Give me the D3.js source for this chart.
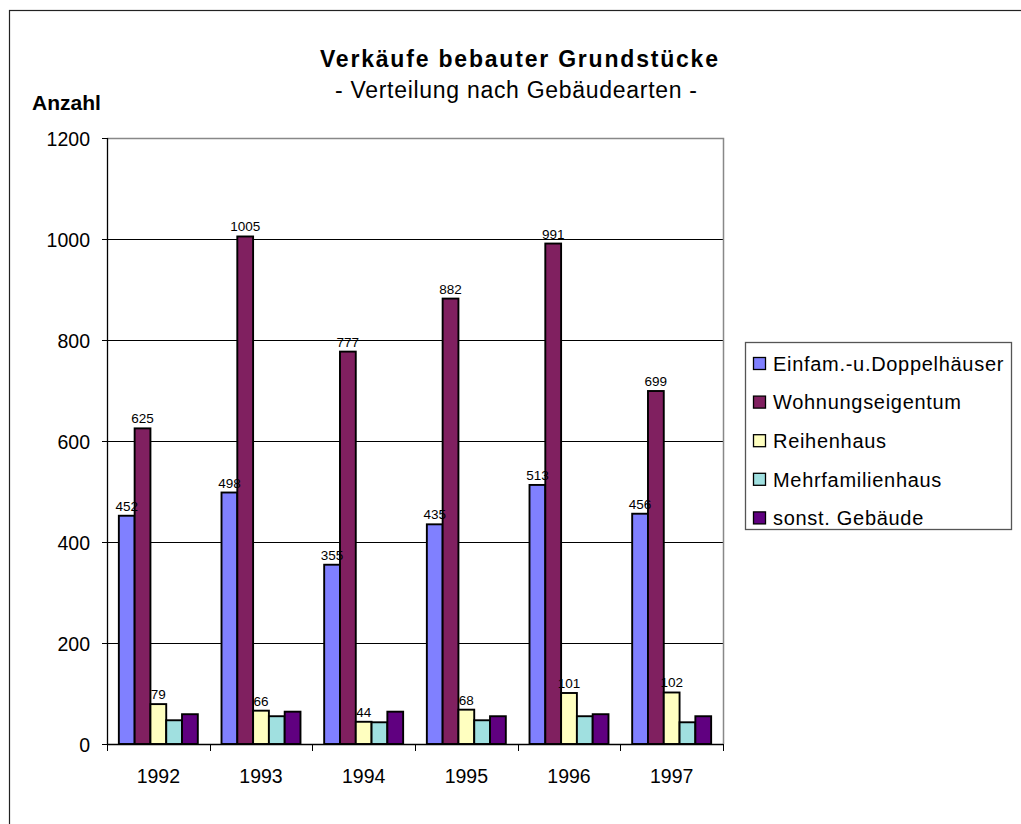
<!DOCTYPE html>
<html>
<head>
<meta charset="utf-8">
<script src="https://cdn.jsdelivr.net/npm/d3@7"></script>
<style>
  body { margin: 0; background: #fff; }
  text { font-family: Arial, "Liberation Sans", sans-serif; fill: #000; }
</style>
</head>
<body>
<div></div>
<script>
const years = ["1992", "1993", "1994", "1995", "1996", "1997"];
const seriesNames = ["Einfam.-u.Doppelhäuser", "Wohnungseigentum", "Reihenhaus", "Mehrfamilienhaus", "sonst. Gebäude"];
const einfam = [452, 498, 355, 435, 513, 456];
const wohnung = [625, 1005, 777, 882, 991, 699];
const reihen = [79, 66, 44, 68, 101, 102];
const mehrfam = [47, 55, 43, 47, 55, 43];
const sonst = [59, 64, 64, 55, 59, 55];
const labelled = [true, true, true, false, false];
const yTicks = [0, 200, 400, 600, 800, 1000, 1200];
const colors = ["#8080ff", "#802060", "#ffffc0", "#a0e0e0", "#600080"];

const series = [einfam, wohnung, reihen, mehrfam, sonst];
const width = 1021, height = 824;
const plotLeft = 107, plotRight = 723, plotTop = 138, plotBottom = 744;

const svg = d3.select("body>div").append("svg")
    .attr("width", width)
    .attr("height", height);

// outer frame (cut at right/bottom)
svg.append("rect")
    .attr("x", 9.5).attr("y", 10.5)
    .attr("width", width + 20).attr("height", height + 20)
    .attr("fill", "none").attr("stroke", "#222").attr("stroke-width", 1.2);

const x0 = d3.scaleBand().domain(years).range([plotLeft, plotRight]).paddingInner(0).paddingOuter(0);
const x1 = d3.scaleBand().domain(d3.range(series.length)).range([0, x0.bandwidth()])
    .paddingInner(0).paddingOuter(0.75);
const y = d3.scaleLinear().domain([0, 1200]).range([plotBottom, plotTop]);

// gridlines
svg.append("g")
    .selectAll("line")
    .data(yTicks.filter(d => d > 0 && d < 1200))
    .join("line")
    .attr("x1", plotLeft).attr("x2", plotRight)
    .attr("y1", d => Math.round(y(d)) + 0.5).attr("y2", d => Math.round(y(d)) + 0.5)
    .attr("stroke", "#000").attr("stroke-width", 1);

// plot area border
svg.append("path")
    .attr("d", `M${plotLeft},${Math.round(y(1200)) + 0.5}H${plotRight + 0.5}V${plotBottom}`)
    .attr("fill", "none").attr("stroke", "#888").attr("stroke-width", 1.5);

// bars
const groups = svg.append("g")
    .selectAll("g")
    .data(years)
    .join("g")
    .attr("transform", d => `translate(${x0(d)},0)`);

groups.selectAll("rect")
    .data((d, i) => series.map((s, k) => ({ k: k, v: s[i] })))
    .join("rect")
    .attr("x", d => x1(d.k))
    .attr("y", d => y(d.v))
    .attr("width", x1.bandwidth())
    .attr("height", d => y(0) - y(d.v))
    .attr("fill", d => colors[d.k])
    .attr("stroke", "#000")
    .attr("stroke-width", 1.9);

groups.selectAll("text")
    .data((d, i) => series.map((s, k) => ({ k: k, v: s[i] })).filter(d => labelled[d.k]))
    .join("text")
    .attr("x", d => x1(d.k) + x1.bandwidth() / 2)
    .attr("y", d => y(d.v) - 5)
    .attr("text-anchor", "middle")
    .style("font-size", "13.5px")
    .text(d => d.v);

// y axis
const yAxis = svg.append("g")
    .attr("transform", `translate(${plotLeft},0)`)
    .call(d3.axisLeft(y).tickValues(yTicks).tickSize(5).tickPadding(12).tickFormat(d3.format("d")));
yAxis.select(".domain").attr("stroke", "#000").attr("stroke-width", 1.3).attr("d", `M0.5,${plotTop}V${plotBottom}`);
yAxis.selectAll(".tick line").attr("stroke", "#000");
yAxis.selectAll(".tick text").style("font-size", "19.5px").style("font-family", "Arial, 'Liberation Sans', sans-serif").attr("dy", "0.36em");

// x axis
const xAxis = svg.append("g")
    .attr("transform", `translate(0,${plotBottom})`)
    .call(d3.axisBottom(x0).tickSize(0).tickPadding(25));
xAxis.select(".domain").attr("stroke", "#000").attr("stroke-width", 1.3).attr("d", `M${plotLeft},0.5H${plotRight}`);
xAxis.selectAll(".tick text").style("font-size", "19.5px").style("font-family", "Arial, 'Liberation Sans', sans-serif");
xAxis.append("g")
    .selectAll("line")
    .data(years.concat(["end"]))
    .join("line")
    .attr("x1", (d, i) => Math.round(plotLeft + i * x0.bandwidth()) + 0.5)
    .attr("x2", (d, i) => Math.round(plotLeft + i * x0.bandwidth()) + 0.5)
    .attr("y1", 0).attr("y2", 7)
    .attr("stroke", "#000");

// titles
svg.append("text")
    .attr("x", 519).attr("y", 67)
    .attr("text-anchor", "middle")
    .style("font-size", "23px").style("font-weight", "bold")
    .attr("textLength", 398)
    .text("Verkäufe bebauter Grundstücke");
svg.append("text")
    .attr("x", 516).attr("y", 98)
    .attr("text-anchor", "middle")
    .style("font-size", "23px")
    .attr("textLength", 362)
    .text("- Verteilung nach Gebäudearten -");
svg.append("text")
    .attr("x", 32).attr("y", 110)
    .style("font-size", "21px").style("font-weight", "bold")
    .text("Anzahl");

// legend
const legend = svg.append("g");
legend.append("rect")
    .attr("x", 745.5).attr("y", 342.5)
    .attr("width", 266).attr("height", 187)
    .attr("fill", "#fff").attr("stroke", "#555").attr("stroke-width", 1.3);
const item = legend.selectAll("g")
    .data(seriesNames)
    .join("g")
    .attr("transform", (d, i) => `translate(753,${363.5 + i * 38.6})`);
item.append("rect")
    .attr("x", 0.5).attr("y", -6)
    .attr("width", 12).attr("height", 12)
    .attr("fill", (d, i) => colors[i])
    .attr("stroke", "#000")
    .attr("stroke-width", 1.3);
item.append("text")
    .attr("x", 20).attr("y", 0).attr("dy", "0.36em")
    .style("font-size", "20px")
    .style("letter-spacing", "0.7px")
    .text(d => d);
</script>
</body>
</html>
